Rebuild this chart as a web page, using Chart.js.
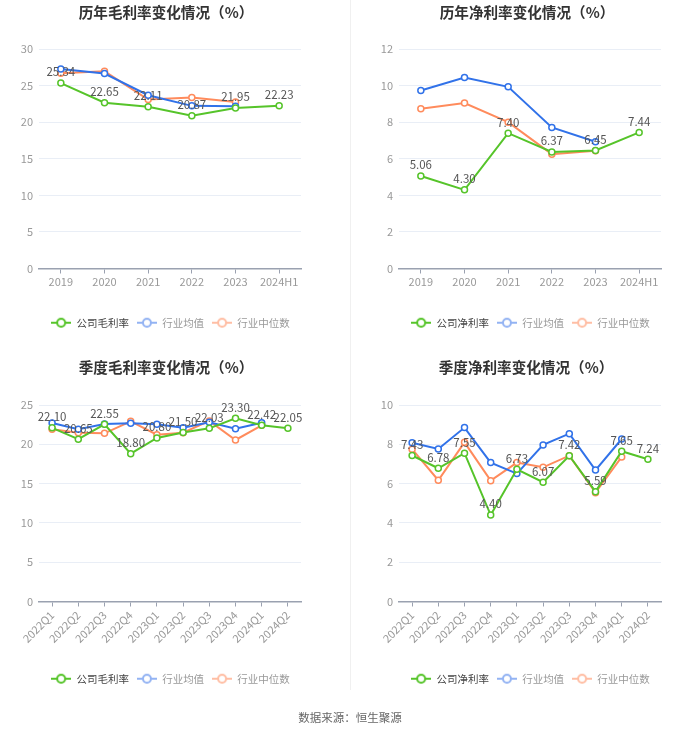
<!DOCTYPE html>
<html>
<head>
<meta charset="utf-8">
<script src="https://cdn.jsdelivr.net/npm/chart.js@4.4.0/dist/chart.umd.min.js"></script>
<style>
  body { margin: 0; background: #fff; font-family: "Noto Sans CJK SC", sans-serif; }
  #wrap { position: relative; width: 700px; height: 734px; }
  .box { position: absolute; width: 350px; height: 356px; }
  .sep { position: absolute; left: 350px; top: 0; width: 1px; height: 690px; background: #f0f0f0; }
  #src { position: absolute; top: 709px; width: 700px; text-align: center; font-size: 11.5px; color: #666; }
</style>
</head>
<body>
<div id="wrap">
  <div class="box" style="left:0;top:0"><canvas id="c1" width="350" height="356"></canvas></div>
  <div class="box" style="left:350px;top:0"><canvas id="c2" width="350" height="356"></canvas></div>
  <div class="box" style="left:0;top:356px"><canvas id="c3" width="350" height="356"></canvas></div>
  <div class="box" style="left:350px;top:356px"><canvas id="c4" width="350" height="356"></canvas></div>
  <div class="sep"></div>
  <div id="src">数据来源：恒生聚源</div>
</div>
<script>
const years = ['2019', '2020', '2021', '2022', '2023', '2024H1'];
const quarters = ['2022Q1', '2022Q2', '2022Q3', '2022Q4', '2023Q1', '2023Q2', '2023Q3', '2023Q4', '2024Q1', '2024Q2'];

// 历年毛利率
const grossYearCompany = [25.34, 22.65, 22.11, 20.87, 21.95, 22.23];
const grossYearAvg = [27.27, 26.64, 23.68, 22.23, 22.18, null];
const grossYearMedian = [26.68, 26.95, 23.09, 23.36, 22.77, null];

// 历年净利率
const netYearCompany = [5.06, 4.30, 7.40, 6.37, 6.45, 7.44];
const netYearAvg = [9.73, 10.44, 9.93, 7.71, 6.93, null];
const netYearMedian = [8.73, 9.05, 8.00, 6.25, 6.44, null];

// 季度毛利率
const grossQCompany = [22.10, 20.65, 22.55, 18.80, 20.80, 21.50, 22.03, 23.30, 22.42, 22.05];
const grossQAvg = [22.71, 21.91, 22.58, 22.67, 22.54, 22.12, 22.80, 21.99, 22.75, null];
const grossQMedian = [21.91, 21.48, 21.40, 22.92, 21.23, 21.48, 22.97, 20.55, 22.42, null];

// 季度净利率
const netQCompany = [7.43, 6.78, 7.55, 4.40, 6.73, 6.07, 7.42, 5.59, 7.65, 7.24];
const netQAvg = [8.08, 7.76, 8.85, 7.07, 6.51, 7.97, 8.54, 6.69, 8.27, null];
const netQMedian = [7.75, 6.17, 8.10, 6.15, 7.07, 6.83, 7.42, 5.54, 7.36, null];

const GREEN = '#56c42a';
const BLUE = '#3172e9';
const ORANGE = '#ff8b5c';
const FONT = '"Noto Sans CJK SC", "Noto Sans", sans-serif';

function makeIcon(color) {
  const c = document.createElement('canvas');
  c.width = 20; c.height = 12;
  const ctx = c.getContext('2d');
  ctx.strokeStyle = color;
  ctx.lineWidth = 2;
  ctx.beginPath(); ctx.moveTo(0, 6); ctx.lineTo(20, 6); ctx.stroke();
  ctx.fillStyle = '#fff';
  ctx.beginPath(); ctx.arc(10, 6, 4, 0, Math.PI * 2); ctx.fill(); ctx.stroke();
  return c;
}

// company values written above the points
const valueLabels = {
  id: 'valueLabels',
  afterDatasetsDraw(chart) {
    const ctx = chart.ctx;
    const meta = chart.getDatasetMeta(0);
    const data = chart.data.datasets[0].data;
    ctx.save();
    ctx.font = '11.5px ' + FONT;
    ctx.fillStyle = '#555';
    ctx.textAlign = 'center';
    ctx.textBaseline = 'middle';
    meta.data.forEach((pt, i) => {
      if (data[i] == null) return;
      ctx.fillText(data[i].toFixed(2), pt.x, pt.y - 11);
    });
    ctx.restore();
  }
};

// title drawn at a fixed spot, legend nudged to sit under the plot
const frame = {
  id: 'frame',
  afterLayout(chart, args, o) {
    chart.legend.left += o.legendShift;
    chart.legend.right += o.legendShift;
  },
  afterDraw(chart, args, o) {
    const ctx = chart.ctx;
    ctx.save();
    ctx.font = 'bold 14.6px ' + FONT;
    ctx.fillStyle = '#333';
    ctx.textAlign = 'center';
    ctx.textBaseline = 'middle';
    ctx.fillText(o.title, o.titleX, o.titleY);
    ctx.restore();
  }
};

function series(label, data, color) {
  return {
    label: label, data: data, borderColor: color, backgroundColor: '#fff',
    borderWidth: 2, pointRadius: 3, pointBorderWidth: 1.5, pointHoverRadius: 3,
    pointBackgroundColor: '#fff', tension: 0, spanGaps: false
  };
}

function makeChart(id, opts) {
  const legendStyles = [
    { icon: makeIcon(GREEN), color: '#444' },
    { icon: makeIcon('#93b3f3'), color: '#999' },
    { icon: makeIcon('#ffbea4'), color: '#999' }
  ];
  return new Chart(document.getElementById(id), {
    type: 'line',
    data: {
      labels: opts.labels,
      datasets: [
        series(opts.names[0], opts.values[0], GREEN),
        series('行业均值', opts.values[1], BLUE),
        series('行业中位数', opts.values[2], ORANGE)
      ]
    },
    options: {
      responsive: false,
      animation: false,
      layout: { padding: { left: 0, right: opts.padRight, bottom: 18, top: 49 } },
      plugins: {
        frame: { title: opts.title, titleX: opts.titleX, titleY: opts.titleY, legendShift: opts.legendShift },
        title: { display: false },
        legend: {
          position: 'bottom',
          labels: {
            usePointStyle: true, pointStyleWidth: 20, padding: 8,
            font: { family: FONT, size: 10.5 },
            generateLabels: (chart) => chart.data.datasets.map((ds, i) => ({
              text: ds.label, pointStyle: legendStyles[i].icon,
              fontColor: legendStyles[i].color, datasetIndex: i,
              hidden: false, lineWidth: 0, strokeStyle: 'transparent', fillStyle: 'transparent'
            }))
          }
        },
        tooltip: { enabled: false }
      },
      scales: {
        x: {
          offset: true,
          afterFit: (scale) => { scale.height = opts.xHeight; },
          grid: { display: true, drawOnChartArea: false, drawTicks: true, tickLength: 5, offset: false, color: '#9aa1b0' },
          border: { display: true, color: '#9aa1b0', width: 1.5 },
          ticks: {
            color: '#999', font: { family: FONT, size: 11 }, padding: 2,
            autoSkip: false, minRotation: opts.rotate, maxRotation: opts.rotate
          }
        },
        y: {
          min: 0, max: opts.max,
          afterFit: (scale) => { scale.width = opts.yWidth; },
          grid: { color: '#e9eef6', drawTicks: false },
          border: { display: false },
          ticks: { stepSize: opts.step, color: '#999', font: { family: FONT, size: 11 }, padding: 6 }
        }
      }
    },
    plugins: [valueLabels, frame]
  });
}

makeChart('c1', {
  title: '历年毛利率变化情况（%）', labels: years, names: ['公司毛利率'],
  values: [grossYearCompany, grossYearAvg, grossYearMedian],
  max: 30, step: 5, yWidth: 39, padRight: 49, xHeight: 41, rotate: 0,
  titleX: 166, titleY: 12, legendShift: 20
});
makeChart('c2', {
  title: '历年净利率变化情况（%）', labels: years, names: ['公司净利率'],
  values: [netYearCompany, netYearAvg, netYearMedian],
  max: 12, step: 2, yWidth: 49, padRight: 39, xHeight: 41, rotate: 0,
  titleX: 177, titleY: 12, legendShift: 25
});
makeChart('c3', {
  title: '季度毛利率变化情况（%）', labels: quarters, names: ['公司毛利率'],
  values: [grossQCompany, grossQAvg, grossQMedian],
  max: 25, step: 5, yWidth: 39, padRight: 49, xHeight: 64, rotate: 45,
  titleX: 166, titleY: 11, legendShift: 20
});
makeChart('c4', {
  title: '季度净利率变化情况（%）', labels: quarters, names: ['公司净利率'],
  values: [netQCompany, netQAvg, netQMedian],
  max: 10, step: 2, yWidth: 49, padRight: 39, xHeight: 64, rotate: 45,
  titleX: 176, titleY: 11, legendShift: 25
});
</script>
</body>
</html>
